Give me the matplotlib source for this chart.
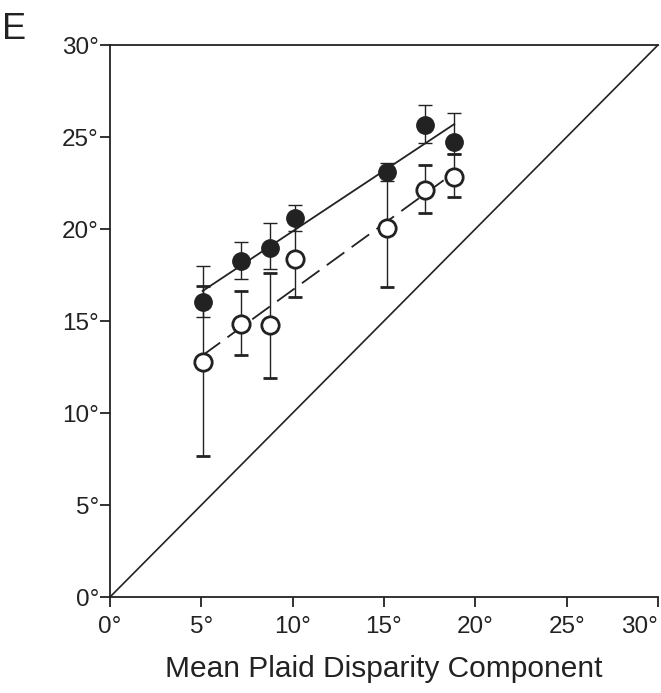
import numpy as np
import matplotlib
matplotlib.use("Agg")
import matplotlib.pyplot as plt

plt.rcParams['font.family'] = ['Liberation Sans', 'DejaVu Sans']

# mean plaid disparity component (deg)
x_vals = [5.07, 7.15, 8.76, 10.13, 15.18, 17.26, 18.85]

# filled circles
filled_y = [16.02, 18.26, 18.95, 20.61, 23.11, 25.65, 24.71]
filled_lo = [0.79, 0.95, 1.14, 0.70, 0.50, 1.00, 0.63]
filled_hi = [1.97, 1.05, 1.36, 0.70, 0.50, 1.10, 1.60]

# open circles
open_y = [12.79, 14.84, 14.78, 18.35, 20.04, 22.12, 22.84]
open_lo = [5.13, 1.70, 2.90, 2.03, 3.21, 1.27, 1.08]
open_hi = [4.13, 1.81, 2.81, 2.03, 3.21, 1.36, 1.24]

ticks = [0, 5, 10, 15, 20, 25, 30]
tick_labels = ["0°", "5°", "10°", "15°", "20°", "25°", "30°"]

fig = plt.figure(figsize=(6.61, 6.93), dpi=100)
ax = fig.add_axes([0.1664, 0.1385, 0.829, 0.7965])

# identity line
ax.plot([0, 30], [0, 30], color="#222222", lw=1.2, clip_on=False, zorder=1)

# fit lines
x = np.array(x_vals)
p_f = np.polyfit(x, filled_y, 1)
p_o = np.polyfit(x, open_y, 1)
xs = np.array([x.min(), x.max()])
ax.plot(xs, np.polyval(p_f, xs), color="#222222", lw=1.3, zorder=2)
ax.plot(xs, np.polyval(p_o, xs), color="#222222", lw=1.3, dashes=(12, 5), zorder=2)

# error bars + markers
ax.errorbar(x_vals, filled_y, yerr=[filled_lo, filled_hi], fmt="o", color="#222222",
            ms=12.5, mfc="#222222", mec="#222222", elinewidth=1.0, capsize=5,
            capthick=1.0, zorder=4)
ax.errorbar(x_vals, open_y, yerr=[open_lo, open_hi], fmt="o", color="#222222",
            ms=12.5, mfc="white", mec="#222222", mew=2.0, elinewidth=1.0, capsize=5,
            capthick=1.0, zorder=3)

ax.set_xlim(0, 30)
ax.set_ylim(0, 30)
ax.set_xticks(ticks)
ax.set_yticks(ticks)
ax.set_xticklabels(tick_labels)
ax.set_yticklabels(tick_labels)
ax.get_xticklabels()[-1].set_horizontalalignment("right")

for s in ["left", "bottom", "top"]:
    ax.spines[s].set_linewidth(1.3)
    ax.spines[s].set_color("#222222")
ax.spines["right"].set_visible(False)

ax.tick_params(direction="out", length=7, width=1.3, color="#222222",
               labelsize=17.5, labelcolor="#222222")
ax.tick_params(axis="x", pad=7)
ax.tick_params(axis="y", pad=1)

ax.set_xlabel("Mean Plaid Disparity Component", fontsize=21.5, color="#222222", labelpad=12)

fig.text(0.003, 0.982, "E", fontsize=26, color="#222222", va="top", ha="left")

fig.savefig("out.png", dpi=100)
